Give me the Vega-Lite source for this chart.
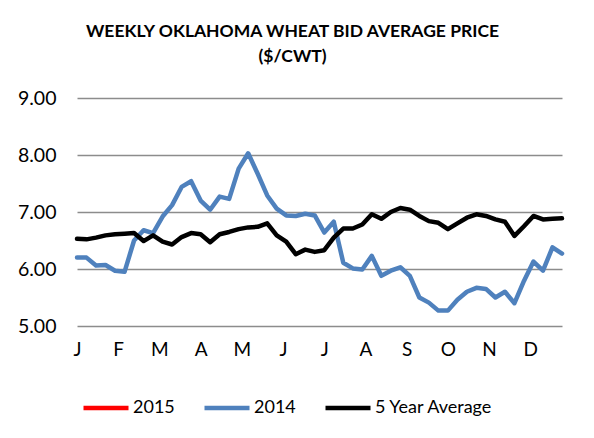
{
  "$schema": "https://vega.github.io/schema/vega-lite/v6.json",
  "autosize": {"type": "none"},
  "padding": {"left": 77, "top": 98, "right": 32, "bottom": 112},
  "width": 485,
  "height": 228,
  "background": "white",
  "config": {
    "view": {"stroke": null},
    "font": "Lato"
  },
  "title": {
    "text": ["WEEKLY OKLAHOMA WHEAT BID AVERAGE PRICE", "($/CWT)"],
    "font": "Lato",
    "fontSize": 17.5,
    "fontWeight": "bold",
    "color": "#000000",
    "anchor": "middle",
    "dx": -27,
    "offset": 23,
    "lineHeight": 25
  },
  "data": {
    "values": [
      {"week": 1, "y2014": 6.20, "avg": 6.53},
      {"week": 2, "y2014": 6.20, "avg": 6.52},
      {"week": 3, "y2014": 6.06, "avg": 6.55},
      {"week": 4, "y2014": 6.07, "avg": 6.59},
      {"week": 5, "y2014": 5.97, "avg": 6.61},
      {"week": 6, "y2014": 5.95, "avg": 6.62},
      {"week": 7, "y2014": 6.50, "avg": 6.63},
      {"week": 8, "y2014": 6.68, "avg": 6.49},
      {"week": 9, "y2014": 6.63, "avg": 6.59},
      {"week": 10, "y2014": 6.92, "avg": 6.48},
      {"week": 11, "y2014": 7.12, "avg": 6.43},
      {"week": 12, "y2014": 7.44, "avg": 6.56},
      {"week": 13, "y2014": 7.54, "avg": 6.63},
      {"week": 14, "y2014": 7.20, "avg": 6.61},
      {"week": 15, "y2014": 7.04, "avg": 6.47},
      {"week": 16, "y2014": 7.27, "avg": 6.61},
      {"week": 17, "y2014": 7.23, "avg": 6.65},
      {"week": 18, "y2014": 7.76, "avg": 6.70},
      {"week": 19, "y2014": 8.03, "avg": 6.73},
      {"week": 20, "y2014": 7.67, "avg": 6.74},
      {"week": 21, "y2014": 7.29, "avg": 6.80},
      {"week": 22, "y2014": 7.06, "avg": 6.59},
      {"week": 23, "y2014": 6.94, "avg": 6.48},
      {"week": 24, "y2014": 6.93, "avg": 6.26},
      {"week": 25, "y2014": 6.97, "avg": 6.34},
      {"week": 26, "y2014": 6.94, "avg": 6.30},
      {"week": 27, "y2014": 6.64, "avg": 6.33},
      {"week": 28, "y2014": 6.83, "avg": 6.55},
      {"week": 29, "y2014": 6.11, "avg": 6.71},
      {"week": 30, "y2014": 6.01, "avg": 6.71},
      {"week": 31, "y2014": 5.99, "avg": 6.78},
      {"week": 32, "y2014": 6.23, "avg": 6.96},
      {"week": 33, "y2014": 5.88, "avg": 6.88},
      {"week": 34, "y2014": 5.97, "avg": 7.00},
      {"week": 35, "y2014": 6.03, "avg": 7.07},
      {"week": 36, "y2014": 5.88, "avg": 7.04},
      {"week": 37, "y2014": 5.50, "avg": 6.93},
      {"week": 38, "y2014": 5.41, "avg": 6.84},
      {"week": 39, "y2014": 5.27, "avg": 6.81},
      {"week": 40, "y2014": 5.27, "avg": 6.70},
      {"week": 41, "y2014": 5.46, "avg": 6.80},
      {"week": 42, "y2014": 5.60, "avg": 6.90},
      {"week": 43, "y2014": 5.67, "avg": 6.96},
      {"week": 44, "y2014": 5.65, "avg": 6.93},
      {"week": 45, "y2014": 5.50, "avg": 6.87},
      {"week": 46, "y2014": 5.60, "avg": 6.83},
      {"week": 47, "y2014": 5.40, "avg": 6.58},
      {"week": 48, "y2014": 5.79, "avg": 6.75},
      {"week": 49, "y2014": 6.13, "avg": 6.93},
      {"week": 50, "y2014": 5.97, "avg": 6.87},
      {"week": 51, "y2014": 6.38, "avg": 6.88},
      {"week": 52, "y2014": 6.27, "avg": 6.89}
    ]
  },
  "transform": [
    {"fold": ["y2014", "avg"], "as": ["key", "price"]},
    {"lookup": "key", "from": {"data": {"values": [{"key": "y2014", "series": "2014", "ord": 1}, {"key": "avg", "series": "5 Year Average", "ord": 2}]}, "key": "key", "fields": ["series", "ord"]}}
  ],
  "mark": {"type": "line", "strokeWidth": 4.5, "strokeJoin": "round", "strokeCap": "round"},
  "encoding": {
    "x": {
      "field": "week",
      "type": "quantitative",
      "scale": {"domain": [1, 52], "nice": false, "zero": false},
      "axis": {
        "title": null,
        "values": [1, 5.333, 9.667, 14, 18.333, 22.667, 27, 31.333, 35.667, 40, 44.333, 48.667],
        "labelExpr": "['J','F','M','A','M','J','J','A','S','O','N','D'][round((datum.value - 1) * 12 / 52)]",
        "grid": false,
        "domain": false,
        "ticks": false,
        "labelPadding": 14,
        "labelFontSize": 19,
        "labelFont": "Lato",
        "labelColor": "#000000",
        "labelFlush": false,
        "labelOverlap": false
      }
    },
    "y": {
      "field": "price",
      "type": "quantitative",
      "scale": {"domain": [5, 9], "nice": false, "zero": false},
      "axis": {
        "title": null,
        "values": [5, 6, 7, 8, 9],
        "format": ".2f",
        "grid": true,
        "gridColor": "#8c8c8c",
        "gridWidth": 1.3,
        "domain": false,
        "ticks": false,
        "labelPadding": 21,
        "labelFontSize": 19.5,
        "labelFont": "Lato",
        "labelColor": "#000000"
      }
    },
    "color": {
      "field": "series",
      "type": "nominal",
      "scale": {"domain": ["2015", "2014", "5 Year Average"], "range": ["#FF0000", "#4F81BD", "#000000"]},
      "legend": {
        "orient": "none",
        "legendX": 4,
        "legendY": 285,
        "direction": "horizontal",
        "title": null,
        "symbolType": "stroke",
        "symbolSize": 2025,
        "symbolStrokeWidth": 4.5,
        "labelFontSize": 18,
        "labelFont": "Lato",
        "labelColor": "#000000",
        "labelOffset": 2,
        "columnPadding": 20
      }
    },
    "order": {"field": "ord"}
  }
}
